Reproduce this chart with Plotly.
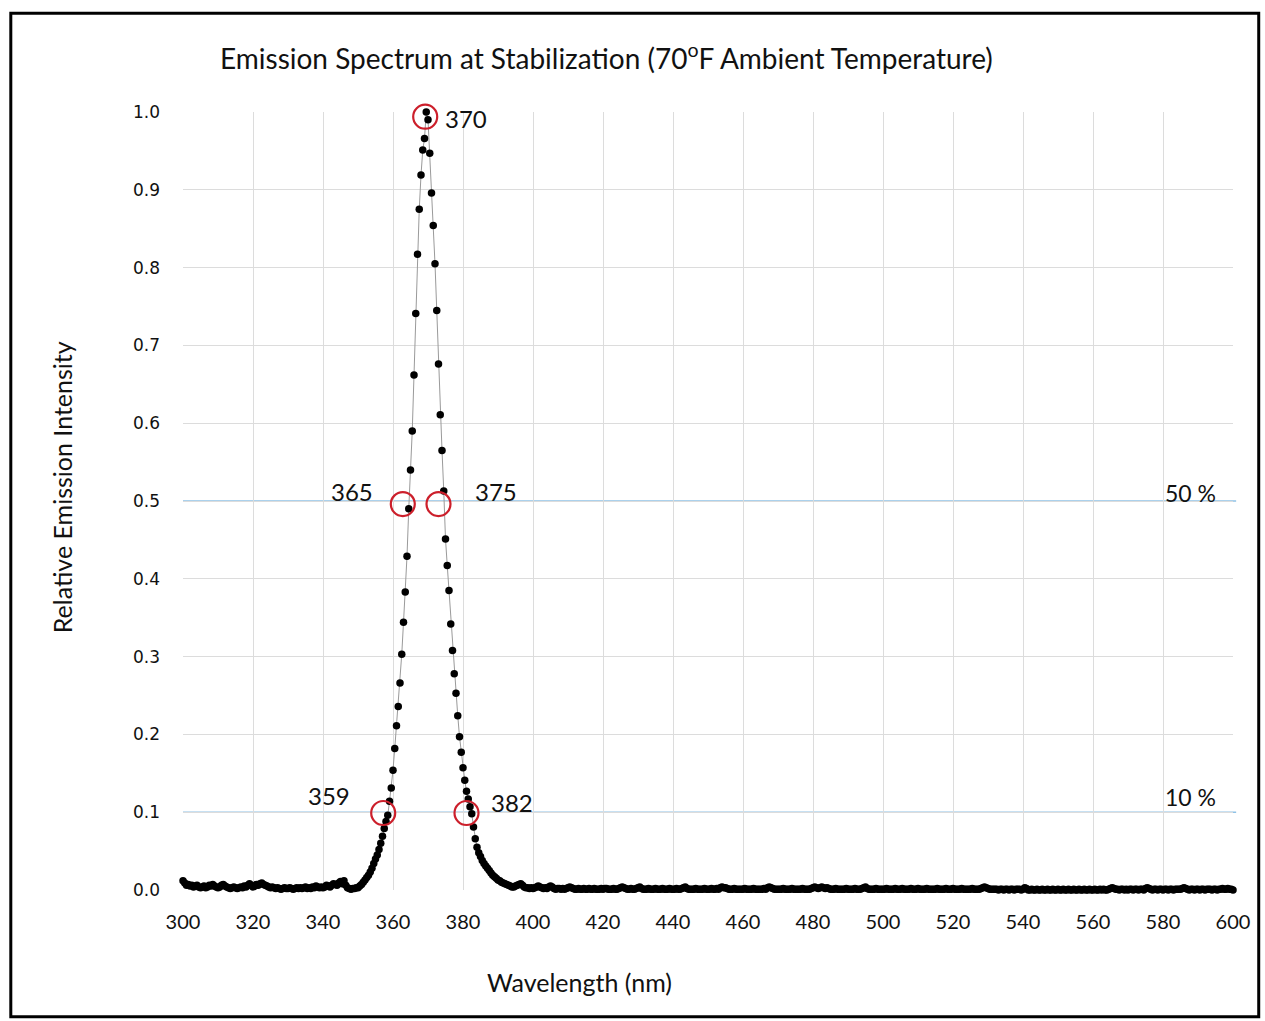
import numpy as np
import plotly.graph_objects as go

# ---- data ----
wl_start, wl_step = 300.0, 0.5   # spectrometer sampling grid (nm)

intensity = [
    # 300.0 - 304.5
    0.012, 0.009, 0.006, 0.007, 0.005, 0.006, 0.004, 0.005, 0.006, 0.004,
    # 305
    0.003, 0.004, 0.005, 0.003, 0.004, 0.006, 0.005, 0.007, 0.005, 0.004,
    # 310
    0.003, 0.004, 0.006, 0.007, 0.005, 0.004, 0.003, 0.002, 0.003, 0.004,
    # 315
    0.003, 0.002, 0.003, 0.004, 0.003, 0.005, 0.004, 0.006, 0.008, 0.006,
    # 320
    0.004, 0.005, 0.007, 0.006, 0.008, 0.009, 0.007, 0.006, 0.005, 0.004,
    # 325
    0.003, 0.004, 0.003, 0.002, 0.003, 0.002, 0.001, 0.002, 0.003, 0.002,
    # 330
    0.002, 0.003, 0.002, 0.001, 0.002, 0.003, 0.002, 0.003, 0.002, 0.003,
    # 335
    0.004, 0.002, 0.003, 0.002, 0.004, 0.003, 0.005, 0.004, 0.003, 0.004,
    # 340
    0.003, 0.004, 0.006, 0.005, 0.004, 0.006, 0.008, 0.007, 0.006, 0.009,
    # 345
    0.011, 0.008, 0.012, 0.006, 0.003, 0.002, 0.001, 0.002, 0.002, 0.003,
    # 350
    0.003, 0.005, 0.007, 0.010, 0.013, 0.016, 0.019, 0.023, 0.028, 0.034,
    # 355
    0.040, 0.045, 0.052, 0.060, 0.069, 0.079, 0.088, 0.096, 0.114, 0.131,
    # 360
    0.154, 0.182, 0.211, 0.236, 0.266, 0.303, 0.344, 0.383, 0.429, 0.490,
    # 365
    0.540, 0.590, 0.662, 0.741, 0.817, 0.875, 0.919, 0.951, 0.966, 1.000,
    # 370
    0.990, 0.947, 0.896, 0.854, 0.805, 0.745, 0.676, 0.611, 0.565, 0.513,
    # 375
    0.451, 0.417, 0.385, 0.342, 0.308, 0.278, 0.253, 0.224, 0.197, 0.177,
    # 380
    0.157, 0.141, 0.127, 0.117, 0.107, 0.098, 0.081, 0.066, 0.055, 0.048,
    # 385
    0.043, 0.038, 0.034, 0.031, 0.028, 0.025, 0.022, 0.019, 0.017, 0.015,
    # 390
    0.013, 0.012, 0.010, 0.009, 0.008, 0.007, 0.006, 0.005, 0.004, 0.004,
    # 395
    0.005, 0.006, 0.007, 0.008, 0.006, 0.004, 0.003, 0.003, 0.002, 0.003,
    # 400
    0.002, 0.003, 0.004, 0.005, 0.004, 0.003, 0.002, 0.003, 0.002, 0.004,
    # 405
    0.005, 0.004, 0.002, 0.001, 0.002, 0.002, 0.001, 0.002, 0.001, 0.002,
    # 410
    0.003, 0.004, 0.003, 0.002, 0.001, 0.001, 0.002, 0.001, 0.001, 0.002,
    # 415
    0.001, 0.001, 0.002, 0.001, 0.001, 0.002, 0.001, 0.001, 0.001, 0.002,
    # 420
    0.001, 0.002, 0.002, 0.001, 0.001, 0.001, 0.002, 0.001, 0.001, 0.002,
    # 425
    0.003, 0.004, 0.003, 0.002, 0.001, 0.001, 0.002, 0.001, 0.001, 0.002,
    # 430
    0.003, 0.004, 0.002, 0.001, 0.001, 0.001, 0.002, 0.001, 0.001, 0.001,
    # 435
    0.002, 0.001, 0.001, 0.001, 0.002, 0.001, 0.001, 0.001, 0.002, 0.001,
    # 440
    0.001, 0.001, 0.002, 0.001, 0.001, 0.002, 0.003, 0.004, 0.002, 0.001,
    # 445
    0.001, 0.001, 0.001, 0.002, 0.001, 0.001, 0.001, 0.001, 0.002, 0.001,
    # 450
    0.001, 0.001, 0.002, 0.001, 0.001, 0.002, 0.001, 0.003, 0.004, 0.003,
    # 455
    0.003, 0.002, 0.001, 0.001, 0.001, 0.002, 0.001, 0.001, 0.001, 0.001,
    # 460
    0.001, 0.002, 0.001, 0.001, 0.001, 0.001, 0.002, 0.001, 0.001, 0.001,
    # 465
    0.001, 0.001, 0.002, 0.001, 0.003, 0.004, 0.003, 0.002, 0.001, 0.001,
    # 470
    0.001, 0.001, 0.001, 0.002, 0.001, 0.001, 0.001, 0.001, 0.002, 0.001,
    # 475
    0.001, 0.001, 0.001, 0.001, 0.002, 0.001, 0.001, 0.001, 0.001, 0.002,
    # 480
    0.003, 0.004, 0.003, 0.002, 0.003, 0.004, 0.003, 0.002, 0.003, 0.002,
    # 485
    0.001, 0.001, 0.001, 0.002, 0.001, 0.001, 0.001, 0.001, 0.001, 0.002,
    # 490
    0.001, 0.001, 0.001, 0.001, 0.002, 0.001, 0.001, 0.001, 0.002, 0.003,
    # 495
    0.004, 0.002, 0.001, 0.001, 0.001, 0.001, 0.002, 0.001, 0.001, 0.001,
    # 500
    0.001, 0.001, 0.002, 0.001, 0.001, 0.001, 0.001, 0.002, 0.001, 0.001,
    # 505
    0.001, 0.002, 0.001, 0.001, 0.001, 0.001, 0.002, 0.001, 0.001, 0.001,
    # 510
    0.002, 0.001, 0.001, 0.001, 0.001, 0.002, 0.001, 0.001, 0.001, 0.001,
    # 515
    0.001, 0.002, 0.001, 0.001, 0.001, 0.001, 0.002, 0.001, 0.001, 0.001,
    # 520
    0.002, 0.001, 0.001, 0.001, 0.001, 0.002, 0.001, 0.001, 0.001, 0.001,
    # 525
    0.001, 0.002, 0.001, 0.001, 0.001, 0.001, 0.002, 0.003, 0.004, 0.003,
    # 530
    0.002, 0.001, 0.001, 0.001, 0.001, 0.001, 0.000, 0.001, 0.001, 0.000,
    # 535
    0.001, 0.001, 0.000, 0.001, 0.001, 0.000, 0.001, 0.001, 0.001, 0.000,
    # 540
    0.001, 0.003, 0.002, 0.000, 0.000, 0.001, 0.000, 0.000, 0.001, 0.000,
    # 545
    0.000, 0.001, 0.000, 0.000, 0.001, 0.000, 0.000, 0.001, 0.000, 0.000,
    # 550
    0.001, 0.000, 0.000, 0.001, 0.000, 0.000, 0.001, 0.000, 0.000, 0.001,
    # 555
    0.000, 0.000, 0.001, 0.000, 0.000, 0.001, 0.000, 0.000, 0.001, 0.000,
    # 560
    0.000, 0.001, 0.000, 0.000, 0.001, 0.000, 0.001, 0.000, 0.000, 0.001,
    # 565
    0.002, 0.003, 0.002, 0.001, 0.001, 0.000, 0.001, 0.001, 0.000, 0.001,
    # 570
    0.000, 0.001, 0.001, 0.000, 0.001, 0.001, 0.000, 0.001, 0.001, 0.000,
    # 575
    0.002, 0.003, 0.002, 0.001, 0.000, 0.001, 0.001, 0.000, 0.001, 0.001,
    # 580
    0.000, 0.001, 0.001, 0.000, 0.001, 0.001, 0.000, 0.001, 0.001, 0.001,
    # 585
    0.001, 0.002, 0.003, 0.002, 0.001, 0.000, 0.001, 0.001, 0.000, 0.001,
    # 590
    0.001, 0.000, 0.001, 0.001, 0.000, 0.001, 0.001, 0.001, 0.000, 0.001,
    # 595
    0.001, 0.000, 0.001, 0.001, 0.002, 0.001, 0.001, 0.002, 0.001, 0.001,
    # 600
    0.000,
]
wavelength = wl_start + wl_step * np.arange(len(intensity))

x_ticks = [300, 320, 340, 360, 380, 400, 420, 440, 460, 480, 500, 520, 540, 560, 580, 600]
y_ticks = [0.0, 0.1, 0.2, 0.3, 0.4, 0.5, 0.6, 0.7, 0.8, 0.9, 1.0]

# marked points (circles) and their labels
mark_x = [369.2, 362.8, 373.0, 357.2, 381.0]
mark_y = [0.994, 0.496, 0.496, 0.099, 0.099]
mark_labels = ["370", "365", "375", "359", "382"]
label_x = [374.3, 354.9, 382.9, 348.3, 387.4]
label_y = [0.992, 0.512, 0.512, 0.122, 0.113]
label_anchor = ["left", "right", "left", "right", "left"]

levels = [0.5, 0.1]
level_labels = ["50 %", "10 %"]
level_label_y = [0.510, 0.120]

FONT = "Lato"

fig = go.Figure()

fig.add_trace(go.Scatter(
    x=wavelength, y=intensity, mode="lines+markers",
    line=dict(color="#9a9a9a", width=1),
    marker=dict(color="black", size=7.5),
    cliponaxis=False, showlegend=False, hoverinfo="x+y",
))

fig.add_trace(go.Scatter(
    x=mark_x, y=mark_y, mode="markers",
    marker=dict(symbol="circle-open", size=24, color="#cc1f2b",
                line=dict(width=2.2, color="#cc1f2b")),
    cliponaxis=False, showlegend=False, hoverinfo="skip",
))

shapes = []
for lv in levels:
    shapes.append(dict(type="line", xref="paper", yref="y", x0=0, x1=1.003,
                       y0=lv, y1=lv, line=dict(color="#8fc2e6", width=1.5), layer="below"))
# scanned page frame
shapes.append(dict(type="rect", xref="paper", yref="paper",
                   x0=-0.164, x1=1.0245, y0=-0.163, y1=1.127,
                   line=dict(color="black", width=3), layer="above"))

annotations = []
for t, x, y, a in zip(mark_labels, label_x, label_y, label_anchor):
    annotations.append(dict(text=t, x=x, y=y, xref="x", yref="y", xanchor=a,
                            yanchor="middle", showarrow=False,
                            font=dict(family=FONT, size=24, color="#111")))
for t, y in zip(level_labels, level_label_y):
    annotations.append(dict(text=t, x=595.7, y=y, xref="x", yref="y", xanchor="right",
                            yanchor="middle", showarrow=False,
                            font=dict(family=FONT, size=23, color="#111")))
annotations.append(dict(text="Emission Spectrum at Stabilization (70<sup>o</sup>F Ambient Temperature)",
                        x=0.403, y=1.071, xref="paper", yref="paper", xanchor="center",
                        yanchor="middle", showarrow=False,
                        font=dict(family=FONT, size=28, color="#111")))
annotations.append(dict(text="Wavelength (nm)", x=0.378, y=-0.118, xref="paper", yref="paper",
                        xanchor="center", yanchor="middle", showarrow=False,
                        font=dict(family=FONT, size=25, color="#111")))
annotations.append(dict(text="Relative Emission Intensity", x=-0.115, y=0.518, xref="paper",
                        yref="paper", xanchor="center", yanchor="middle", textangle=-90,
                        showarrow=False, font=dict(family=FONT, size=25, color="#111")))

fig.update_layout(
    width=1265, height=1021,
    margin=dict(l=183, r=32, t=112, b=131),
    paper_bgcolor="white", plot_bgcolor="white",
    shapes=shapes, annotations=annotations,
    font=dict(family=FONT, color="#111"),
    xaxis=dict(range=[300, 600], tickvals=x_ticks, ticktext=[str(v) for v in x_ticks],
               showgrid=True, gridcolor="#dcdcdc", gridwidth=1, zeroline=False,
               showline=False, ticks="", ticklabelstandoff=18,
               tickfont=dict(family=FONT, size=20, color="#111")),
    yaxis=dict(range=[0, 1], tickvals=y_ticks, ticktext=[f"{v:.1f}" for v in y_ticks],
               showgrid=True, gridcolor="#dcdcdc", gridwidth=1, zeroline=False,
               showline=False, ticks="", ticklabelstandoff=22,
               tickfont=dict(family="DejaVu Sans", size=17, color="#111")),
)

fig.write_html("out.html", config={"displayModeBar": False},
               post_script="document.body.style.margin='0px';")
